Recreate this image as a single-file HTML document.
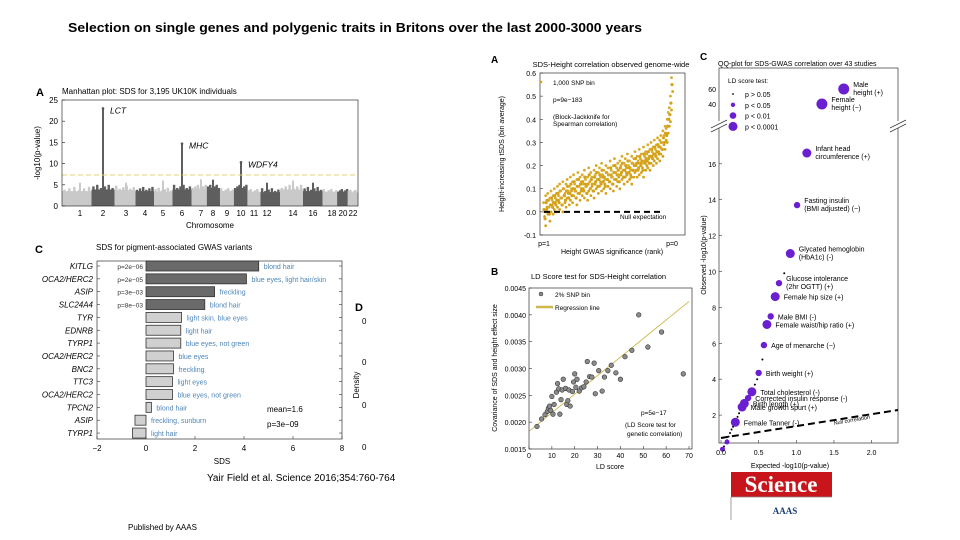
<!DOCTYPE html>
<html><head><meta charset="utf-8"><style>
html,body{margin:0;padding:0;background:#fff;}
svg{display:block;font-family:"Liberation Sans",sans-serif;}
</style></head><body>
<svg id="fig" width="960" height="540" viewBox="0 0 960 540">
<text x="68" y="32" font-size="12.5" font-weight="bold" textLength="574" lengthAdjust="spacingAndGlyphs">Selection on single genes and polygenic traits in Britons over the last 2000-3000 years</text>
<g id="man"></g>
<g id="bar"></g>
<g id="den"></g>
<g id="sc"></g>
<g id="ld"></g>
<g id="qq"></g>
<text x="207" y="481" font-size="10">Yair Field et al. Science 2016;354:760-764</text>
<text x="128" y="530" font-size="8">Published by AAAS</text>
<g>
<rect x="731" y="472" width="101" height="25" fill="#c8151b"/>
<text x="781" y="492" font-size="23" font-weight="bold" fill="#fff" text-anchor="middle" font-family="Liberation Serif,serif">Science</text>
<line x1="731" y1="497" x2="731" y2="520" stroke="#888" stroke-width="0.8"/>
<line x1="731" y1="497" x2="832" y2="497" stroke="#888" stroke-width="0.8"/>
<text x="785" y="514" font-size="9" fill="#1d3f7a" text-anchor="middle" font-family="Liberation Serif,serif" font-weight="bold">AAAS</text>
</g>
</svg>
<script>
// ---------- data ----------
const chromLabels=["1","2","3","4","5","6","7","8","9","10","11","12","14","16","18","20","22"];
const chromCenters=[80,103,126,145,163,182,201,213,227,241,254,267,293,313,332,343,353];
const chromBase=[4.5,5,4.8,4.5,4.3,5,5,5,4.2,5,4,4.2,5,4.5,4,4,3.8];
const spikeChrom=[1,1,5,5,9,9,7,11,12,13,4,0,2,6];
const spikeValue=[23,21.5,14.7,12.2,10.3,7.5,6.2,5.5,6,5.5,6,5.5,5.5,6.3];
const geneNames=["KITLG","OCA2/HERC2","ASIP","SLC24A4","TYR","EDNRB","TYRP1","OCA2/HERC2","BNC2","TTC3","OCA2/HERC2","TPCN2","ASIP","TYRP1"];
const sdsValues=[4.6,4.1,2.8,2.4,1.45,1.42,1.42,1.12,1.12,1.08,1.08,0.22,-0.45,-0.55];
const traitLabels=["blond hair","blue eyes, light hair/skin","freckling","blond hair","light skin, blue eyes","light hair","blue eyes, not green","blue eyes","freckling","light eyes","blue eyes, not green","blond hair","freckling, sunburn","light hair"];
const pLabels=["p=2e\u221206","p=2e\u221205","p=3e\u221203","p=8e\u221203"];
const sdsTicks=[-2,0,2,4,6,8];
const tsds=[0.01,-0.03,0.04,0.02,0.05,-0.01,0.03,0.06,0.02,0.04,0.07,0.03,
0.05,0.08,0.04,0.09,0.06,0.03,0.1,0.07,0.05,0.09,0.11,0.06,
0.08,0.12,0.07,0.1,0.13,0.09,0.06,0.11,0.14,0.08,0.12,0.1,
0.13,0.09,0.15,0.11,0.08,0.12,0.16,0.1,0.14,0.12,0.09,0.15,
0.13,0.17,0.11,0.14,0.16,0.12,0.18,0.13,0.15,0.11,0.17,0.14,
0.16,0.13,0.19,0.15,0.12,0.17,0.2,0.14,0.16,0.18,0.13,0.19,
0.17,0.21,0.15,0.18,0.2,0.16,0.22,0.17,0.19,0.15,0.21,0.18,
0.2,0.23,0.18,0.21,0.19,0.24,0.2,0.22,0.18,0.25,0.21,0.23,
0.22,0.26,0.21,0.24,0.27,0.23,0.25,0.28,0.24,0.26,0.29,0.25,
0.28,0.3,0.27,0.32,0.3,0.34,0.33,0.37,0.4,0.42,0.47,0.55];
const tsdsTicks=[-0.1,0,0.1,0.2,0.3,0.4,0.5,0.6];
const ldScore=[3.5,5.5,7,8,8.5,9,9.5,10,10.5,11,12,12.5,13,13.5,14,14.5,15,16,16.5,17,17.5,18,19,19.5,20,20.5,21,22,23,24,25,25.5,26.5,27.5,28.5,29,30.5,32,33,34.5,36,38,40,42,45,48,52,58,67.5];
const ldCov=[0.00192,0.00206,0.00214,0.0022,0.00226,0.0023,0.00222,0.00248,0.00215,0.00233,0.00256,0.00272,0.00262,0.00215,0.00242,0.0026,0.0028,0.00263,0.00233,0.0024,0.0026,0.0023,0.00257,0.00275,0.0029,0.00265,0.0028,0.00258,0.00264,0.00266,0.00275,0.00313,0.00285,0.00284,0.0031,0.00253,0.00296,0.00258,0.00284,0.00296,0.00306,0.00292,0.0028,0.00322,0.00334,0.004,0.0034,0.00368,0.0029];
const regLine=[0.00183,0.00425];
const ldXTicks=[0,10,20,30,40,50,60,70];
const ldYTicks=[0.0015,0.002,0.0025,0.003,0.0035,0.004,0.0045];
const qqNames=["Male height (+)","Female height (\u2212)","Infant head circumference (+)","Fasting insulin (BMI adjusted) (\u2212)","Glycated hemoglobin (HbA1c) (-)","Glucose intolerance (2hr OGTT) (+)","Female hip size (+)","Male BMI (-)","Female waist/hip ratio (+)","Age of menarche (\u2212)","Birth weight (+)","Total cholesterol (-)","Corrected insulin response (-)","Birth length (+)","Male growth spurt (+)","Female Tanner (-)"];
const qqExp=[1.63,1.34,1.14,1.01,0.92,0.77,0.72,0.66,0.61,0.57,0.5,0.41,0.36,0.31,0.28,0.19];
const qqObs=[60,40,16.6,13.7,11.0,9.35,8.6,7.5,7.05,5.9,4.35,3.3,2.95,2.65,2.45,1.6];
const qqSig=[4,4,3,2,3,2,3,2,3,2,2,3,2,3,3,3];
const qqSmallExp=[0.02,0.04,0.06,0.08,0.1,0.12,0.14,0.16,0.17,0.22,0.24,0.26,0.45,0.48,0.55,0.84];
const qqSmallObs=[0.1,0.25,0.45,0.6,0.8,1.0,1.2,1.35,1.5,1.9,2.1,2.3,3.7,4.0,5.1,9.9];
const qqYTicks=[2,4,6,8,10,12,14,16];
const qqXTicks=[0,0.5,1,1.5,2];

const NS="http://www.w3.org/2000/svg";
function mk(parent,tag,attrs,txt){const e=document.createElementNS(NS,tag);for(const k in attrs)e.setAttribute(k,attrs[k]);if(txt!==undefined)e.textContent=txt;parent.appendChild(e);return e;}

// ---------- Manhattan ----------
(function(){
const g=document.getElementById('man');
const L=62,R=358,T=100,B=206;
const y=v=>B-(v/25)*(B-T);
const t1=mk(g,'text',{x:36,y:96,'font-size':11,'font-weight':'bold'},'A');

const t2=mk(g,'text',{x:62,y:94,'font-size':8},'Manhattan plot: SDS for 3,195 UK10K individuals');

chromCenters.forEach((c,i)=>{
 const x0=i==0?L:(chromCenters[i-1]+c)/2, x1=i==chromCenters.length-1?R:(c+chromCenters[i+1])/2;
 const col=i%2==0?'#c9c9c9':'#5e5e5e';
 const r=mk(g,'rect',{x:x0,y:y(chromBase[i]*0.78),width:x1-x0,height:B-y(chromBase[i]*0.78),fill:col});
 
 for(let k=0;k<6;k++){const xx=x0+(x1-x0)*(k+0.5)/6;const h=chromBase[i]*(0.85+0.15*((k*7+i)%3)/2);
  mk(g,'rect',{x:xx-1.2,y:y(h),width:2.4,height:B-y(h),fill:col});}
 const lb=mk(g,'text',{x:c,y:216,'font-size':8,'text-anchor':'middle'},chromLabels[i]);
 
});
spikeChrom.forEach((ci,i)=>{
 const col=ci%2==0?'#c9c9c9':'#5e5e5e';
 const c=chromCenters[ci];
 const s=mk(g,'rect',{x:c-1,y:y(spikeValue[i]),width:2,height:B-y(spikeValue[i]),fill:col});
 
});
[[1,23,'LCT'],[5,14.7,'MHC'],[9,10.3,'WDFY4']].forEach(a=>{
 mk(g,'circle',{cx:chromCenters[a[0]],cy:y(a[1]),r:1.3,fill:'#555'});
 const t=mk(g,'text',{x:chromCenters[a[0]]+7,y:y(a[1])+5,'font-size':8.5,'font-style':'italic'},a[2]);
 
});
const th=mk(g,'line',{x1:L,x2:R,y1:y(7.3),y2:y(7.3),stroke:'#e0d070','stroke-width':1,'stroke-dasharray':'5,3'});

mk(g,'rect',{x:L,y:T,width:R-L,height:B-T,fill:'none',stroke:'#333','stroke-width':0.7});
[0,5,10,15,20,25].forEach(v=>{mk(g,'line',{x1:L,x2:L+3,y1:y(v),y2:y(v),stroke:'#333','stroke-width':0.7});
 const t=mk(g,'text',{x:L-4,y:y(v)+3,'font-size':8,'text-anchor':'end'},v);
 });
const yt=mk(g,'text',{transform:'translate(40,153) rotate(-90)','font-size':8,'text-anchor':'middle'},'-log10(p-value)');

const xt=mk(g,'text',{x:210,y:228,'font-size':8,'text-anchor':'middle'},'Chromosome');

})();

// ---------- Pigment bar chart ----------
(function(){
const g=document.getElementById('bar');
const L=97,R=342,T=261,B=439;
const x=v=>L+(v+2)/10*(R-L);
const rowY=i=>266+i*12.85;
const a=mk(g,'text',{x:35,y:253,'font-size':11,'font-weight':'bold'},'C');

const t=mk(g,'text',{x:96,y:250,'font-size':8},'SDS for pigment-associated GWAS variants');

mk(g,'rect',{x:L,y:T,width:R-L,height:B-T,fill:'none',stroke:'#333','stroke-width':0.7});
sdsValues.forEach((v,i)=>{
 const cy=rowY(i);const x0=Math.min(x(0),x(v)),w=Math.abs(x(v)-x(0));
 const b=mk(g,'rect',{x:x0,y:cy-5,width:w,height:10,fill:i<4?'#6a6a6a':'#d0d0d0',stroke:'#333','stroke-width':0.8});
 
 const gl=mk(g,'text',{x:L-4,y:cy+3,'font-size':8,'font-style':'italic','text-anchor':'end'},geneNames[i]);
 
 mk(g,'line',{x1:L,x2:L+3,y1:cy,y2:cy,stroke:'#333','stroke-width':0.6});
 mk(g,'line',{x1:R-3,x2:R,y1:cy,y2:cy,stroke:'#333','stroke-width':0.6});
 const tl=mk(g,'text',{x:Math.max(x(v),x(0))+5,y:cy+3,'font-size':7,fill:'#4f86b8'},traitLabels[i]);
 
 if(i<pLabels.length){const p=mk(g,'text',{x:x(0)-3,y:cy+3,'font-size':6.5,'text-anchor':'end',fill:'#333'},pLabels[i]);
  }
});
sdsTicks.forEach(v=>{mk(g,'line',{x1:x(v),x2:x(v),y1:B,y2:B-3,stroke:'#333','stroke-width':0.6});
 const tk=mk(g,'text',{x:x(v),y:451,'font-size':8,'text-anchor':'middle'},v<0?'\u2212'+(-v):v);
 });
const xt=mk(g,'text',{x:222,y:464,'font-size':8,'text-anchor':'middle'},'SDS');

const m1=mk(g,'text',{x:267,y:412,'font-size':8},'mean=1.6');

const m2=mk(g,'text',{x:267,y:427,'font-size':8},'p=3e\u221209');

})();

// ---------- Panel D stub ----------
(function(){
const g=document.getElementById('den');
const d=mk(g,'text',{x:355,y:311,'font-size':11,'font-weight':'bold'},'D');

[324,365,408,450].forEach(yy=>{const t=mk(g,'text',{x:362,y:yy,'font-size':8},'0');
 });
const t=mk(g,'text',{transform:'translate(359,385) rotate(-90)','font-size':8,'text-anchor':'middle'},'Density');

})();

// ---------- SDS-height scatter ----------
(function(){
const g=document.getElementById('sc');
const L=540,R=685,T=73,B=235,X0=544,X1=672;
const y=v=>T+(0.6-v)/0.7*(B-T);
const a=mk(g,'text',{x:491,y:63,'font-size':10,'font-weight':'bold'},'A');

const t=mk(g,'text',{x:611,y:67,'font-size':7.5,'text-anchor':'middle'},'SDS-Height correlation observed genome-wide');

const n=tsds.length;
tsds.forEach((v,i)=>{const cx=X0+i/(n-1)*(X1-X0);
 const c=mk(g,'circle',{cx:cx,cy:y(v),r:1.6,fill:'#d4a21a'});
 
 const c2=mk(g,'circle',{cx:cx+0.6,cy:y(v-0.03),r:1.4,fill:'#d4a21a'});
 
 const c3=mk(g,'circle',{cx:cx-0.5,cy:y(v+0.03),r:1.4,fill:'#d9ab2a'});
 
});
const nl=mk(g,'line',{x1:X0,x2:660,y1:y(0),y2:y(0),stroke:'#000','stroke-width':2,'stroke-dasharray':'6,4'});

mk(g,'text',{x:620,y:219,'font-size':6.5},'Null expectation');
mk(g,'rect',{x:L,y:T,width:R-L,height:B-T,fill:'none',stroke:'#333','stroke-width':0.7});
tsdsTicks.forEach(v=>{mk(g,'line',{x1:L,x2:L+3,y1:y(v),y2:y(v),stroke:'#333','stroke-width':0.6});
 const tk=mk(g,'text',{x:L-4,y:y(v)+3,'font-size':7,'text-anchor':'end'},v.toFixed(1));
 });
mk(g,'text',{x:544,y:246,'font-size':7,'text-anchor':'middle'},'p=1');
mk(g,'text',{x:672,y:246,'font-size':7,'text-anchor':'middle'},'p=0');
const xt=mk(g,'text',{x:612,y:254,'font-size':7,'text-anchor':'middle'},'Height GWAS significance (rank)');

const yt=mk(g,'text',{transform:'translate(504,154) rotate(-90)','font-size':7,'text-anchor':'middle'},'Height-increasing tSDS (bin average)');

mk(g,'circle',{cx:541,cy:82,r:1.3,fill:'#d4a21a'});
const lg=mk(g,'text',{x:553,y:85,'font-size':6.5},'1,000 SNP bin');

mk(g,'text',{x:553,y:102,'font-size':6.5},'p=9e\u2212183');
mk(g,'text',{x:553,y:119,'font-size':6.5},'(Block-Jackknife for');
mk(g,'text',{x:553,y:126,'font-size':6.5},'Spearman correlation)');
})();

// ---------- LD score ----------
(function(){
const g=document.getElementById('ld');
const L=529,R=692,T=288,B=449;
const x=v=>L+v/70*(689-L);
const y=v=>B-(v-0.0015)/0.003*(B-T);
const a=mk(g,'text',{x:491,y:275,'font-size':10,'font-weight':'bold'},'B');

const t=mk(g,'text',{x:531,y:279,'font-size':7.5},'LD Score test for SDS-Height correlation');

const rl=mk(g,'line',{x1:x(0),y1:y(regLine[0]),x2:x(70),y2:y(regLine[1]),stroke:'#cdb84a','stroke-width':0.9});

ldScore.forEach((v,i)=>{const c=mk(g,'circle',{cx:x(v),cy:y(ldCov[i]),r:2.3,fill:'#8a8a8a',stroke:'#333','stroke-width':0.6});
 });
mk(g,'rect',{x:L,y:T,width:R-L,height:B-T,fill:'none',stroke:'#333','stroke-width':0.7});
ldYTicks.forEach(v=>{mk(g,'line',{x1:L,x2:L+3,y1:y(v),y2:y(v),stroke:'#333','stroke-width':0.6});
 const tk=mk(g,'text',{x:L-3,y:y(v)+3,'font-size':7,'text-anchor':'end'},v.toFixed(4));
 });
ldXTicks.forEach(v=>{mk(g,'line',{x1:x(v),x2:x(v),y1:B,y2:B-3,stroke:'#333','stroke-width':0.6});
 const tk=mk(g,'text',{x:x(v),y:458,'font-size':7,'text-anchor':'middle'},v);
 });
const xt=mk(g,'text',{x:610,y:469,'font-size':7,'text-anchor':'middle'},'LD score');

const yt=mk(g,'text',{transform:'translate(497,368) rotate(-90)','font-size':7,'text-anchor':'middle'},'Covariance of SDS and height effect size');

mk(g,'circle',{cx:541,cy:294,r:2,fill:'#8a8a8a',stroke:'#333','stroke-width':0.5});
const l1=mk(g,'text',{x:555,y:297,'font-size':6.5},'2% SNP bin');

mk(g,'line',{x1:536,x2:553,y1:307,y2:307,stroke:'#cdb84a','stroke-width':2.5});
const l2=mk(g,'text',{x:555,y:310,'font-size':6.5},'Regression line');

mk(g,'text',{x:641,y:415,'font-size':6.5},'p=5e\u221217');
mk(g,'text',{x:625,y:427,'font-size':6.5},'(LD Score test for');
mk(g,'text',{x:627,y:436,'font-size':6.5},'genetic correlation)');
})();

// ---------- QQ plot ----------
(function(){
const g=document.getElementById('qq');
const L=719,R=898,T=68,B=443;
const x=v=>721+v*75.3;
const y=v=>v>30?104-(v-40)*0.75:451-v*17.95;
const rad=[1,2.2,3.2,4.5,5.5];
const a=mk(g,'text',{x:700,y:60,'font-size':10,'font-weight':'bold'},'C');

const t=mk(g,'text',{x:718,y:66,'font-size':7},'QQ-plot for SDS-GWAS correlation over 43 studies');

mk(g,'rect',{x:L,y:T,width:R-L,height:B-T,fill:'none',stroke:'#333','stroke-width':0.7});
mk(g,'rect',{x:L-3,y:121,width:R-L+6,height:7,fill:'#fff'});
mk(g,'line',{x1:711,y1:128,x2:727,y2:120,stroke:'#333','stroke-width':0.7});
mk(g,'line',{x1:711,y1:132,x2:727,y2:124,stroke:'#333','stroke-width':0.7});
mk(g,'line',{x1:890,y1:128,x2:906,y2:120,stroke:'#333','stroke-width':0.7});
mk(g,'line',{x1:890,y1:132,x2:906,y2:124,stroke:'#333','stroke-width':0.7});
const nl=mk(g,'line',{x1:x(0),y1:438,x2:898,y2:410,stroke:'#000','stroke-width':2,'stroke-dasharray':'7,4'});

mk(g,'text',{transform:'translate(834,425) rotate(-10)','font-size':5.5},'Null correlation');
qqSmallExp.forEach((v,i)=>{const c=mk(g,'circle',{cx:x(v),cy:y(qqSmallObs[i]),r:1,fill:'#000'});
 });
const splitAt={0:'Male|height (+)',1:'Female|height (\u2212)',2:'Infant head|circumference (+)',3:'Fasting insulin|(BMI adjusted) (\u2212)',4:'Glycated hemoglobin|(HbA1c) (-)',5:'Glucose intolerance|(2hr OGTT) (+)'};
qqExp.forEach((v,i)=>{
 const c=mk(g,'circle',{cx:x(v),cy:y(qqObs[i]),r:rad[qqSig[i]],fill:'#6a1fd0'});
 
 let parts=[qqNames[i]];
 if(splitAt[i])parts=splitAt[i].split('|');
 parts.forEach((p,k)=>{const tl=mk(g,'text',{x:x(v)+rad[qqSig[i]]+4,y:y(qqObs[i])+(parts.length>1?-2+k*8:3),'font-size':7},p);
  });
});
mk(g,'circle',{cx:x(0.08),cy:y(0.5),r:2.5,fill:'#6a1fd0'});
mk(g,'circle',{cx:x(0.02),cy:y(0.1),r:2.5,fill:'#6a1fd0'});
qqYTicks.forEach(v=>{mk(g,'line',{x1:L,x2:L+3,y1:y(v),y2:y(v),stroke:'#333','stroke-width':0.6});
 const tk=mk(g,'text',{x:L-3,y:y(v)+3,'font-size':7,'text-anchor':'end'},v);
 });
[40,60].forEach(v=>{const tk=mk(g,'text',{x:L-3,y:y(v)+3,'font-size':7,'text-anchor':'end'},v);
 });
qqXTicks.forEach(v=>{mk(g,'line',{x1:x(v),x2:x(v),y1:B,y2:B-3,stroke:'#333','stroke-width':0.6});
 const tk=mk(g,'text',{x:x(v),y:455,'font-size':7,'text-anchor':'middle'},v.toFixed(1));
 });
const xt=mk(g,'text',{x:790,y:468,'font-size':7,'text-anchor':'middle'},'Expected -log10(p-value)');

const yt=mk(g,'text',{transform:'translate(706,255) rotate(-90)','font-size':7,'text-anchor':'middle'},'Observed -log10(p-value)');

mk(g,'text',{x:728,y:83,'font-size':6.5},'LD score test:');
['p > 0.05','p < 0.05','p < 0.01','p < 0.0001'].forEach((s,k)=>{
 mk(g,'circle',{cx:733,cy:94+k*10.8,r:[0.9,2.2,3.3,4.5][k],fill:k==0?'#000':'#6a1fd0'});
 const tl=mk(g,'text',{x:745,y:97+k*10.8,'font-size':7},s);
 });
})();
</script>
</body></html>
